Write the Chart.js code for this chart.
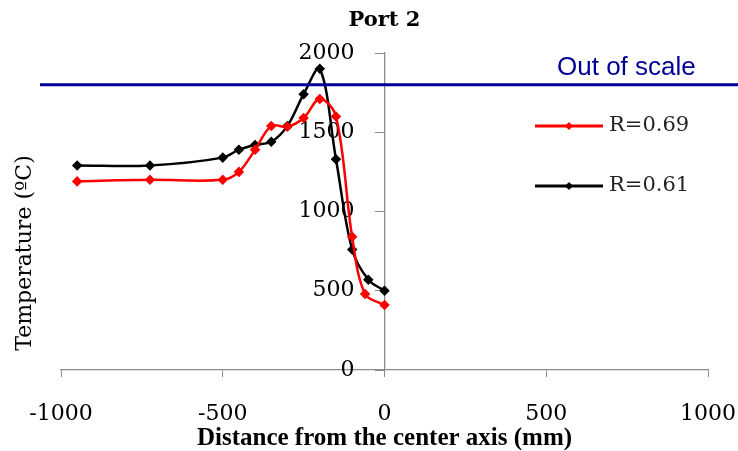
<!DOCTYPE html>
<html>
<head>
<meta charset="utf-8">
<script src="https://cdn.jsdelivr.net/npm/chart.js@4"></script>
<style>
  html, body { margin: 0; padding: 0; background: #fff; }
  #wrap { width: 738px; height: 451px; }
</style>
</head>
<body>
<div id="wrap"><canvas id="chart" width="738" height="451"></canvas></div>
<script>
// distances (mm) and temperatures (oC)
const redX = [-950, -725, -500, -450, -400, -350, -300, -250, -200, -150, -100, -60, 0];
const redY = [1190, 1200, 1200, 1250, 1390, 1540, 1535, 1590, 1710, 1600, 840, 480, 410];
const blackX = [-950, -725, -500, -450, -400, -350, -300, -250, -200, -150, -100, -50, 0];
const blackY = [1290, 1290, 1340, 1390, 1420, 1440, 1540, 1740, 1900, 1330, 760, 570, 500];
const seriesNames = ['R=0.69', 'R=0.61'];
const xTicks = [-1000, -500, 0, 500, 1000];
const yTicks = [0, 500, 1000, 1500, 2000];
const outOfScale = 1800;

const toPoints = (xs, ys) => xs.map((x, i) => ({ x: x, y: ys[i] }));

// y labels of an axis placed at x=0 sit right on the line, push them left
const shiftYLabels = {
  id: 'shiftYLabels',
  beforeDraw(chart) {
    const s = chart.scales.y;
    const items = s.getLabelItems();
    if (items._shifted) return;
    items.forEach(it => { it.options.translation[0] -= 30; });
    items._shifted = true;
  }
};

// extra drawing: blue limit line, its label, y title, legend
const extras = {
  id: 'extras',
  afterDraw(chart) {
    const ctx = chart.ctx;
    const y = chart.scales.y;
    ctx.save();

    // out of scale line
    const ly = y.getPixelForValue(outOfScale);
    ctx.strokeStyle = '#000099';
    ctx.lineWidth = 3;
    ctx.beginPath();
    ctx.moveTo(40, ly);
    ctx.lineTo(chart.width, ly);
    ctx.stroke();
    ctx.fillStyle = '#000099';
    ctx.font = '26px "Liberation Sans", Arial, sans-serif';
    ctx.textBaseline = 'middle';
    ctx.textAlign = 'left';
    ctx.fillText('Out of scale', 557, 68);

    // y axis title
    ctx.fillStyle = '#000';
    ctx.font = '22px "DejaVu Serif", serif';
    ctx.translate(25, 253);
    ctx.rotate(-Math.PI / 2);
    ctx.textAlign = 'center';
    ctx.fillText('Temperature (\u00baC)', 0, 0);
    ctx.setTransform(1, 0, 0, 1, 0, 0);

    // legend
    const rows = [126, 186];
    chart.data.datasets.forEach((ds, i) => {
      const ry = rows[i];
      ctx.strokeStyle = ds.borderColor;
      ctx.lineWidth = 3;
      ctx.beginPath();
      ctx.moveTo(535, ry);
      ctx.lineTo(603, ry);
      ctx.stroke();
      ctx.fillStyle = ds.borderColor;
      ctx.beginPath();
      ctx.moveTo(569, ry - 4);
      ctx.lineTo(573, ry);
      ctx.lineTo(569, ry + 4);
      ctx.lineTo(565, ry);
      ctx.closePath();
      ctx.fill();
      ctx.fillStyle = '#222';
      ctx.font = '21px "DejaVu Serif", serif';
      ctx.textAlign = 'left';
      ctx.textBaseline = 'middle';
      ctx.fillText(ds.label, 609, ry);
    });
    ctx.restore();
  }
};

new Chart(document.getElementById('chart'), {
  type: 'line',
  data: {
    datasets: [
      {
        label: seriesNames[0],
        data: toPoints(redX, redY),
        borderColor: '#ff0000',
        backgroundColor: '#ff0000',
        borderWidth: 2.5,
        pointStyle: 'rectRot',
        pointRadius: 3.5,
        tension: 0.35
      },
      {
        label: seriesNames[1],
        data: toPoints(blackX, blackY),
        borderColor: '#000000',
        backgroundColor: '#000000',
        borderWidth: 2.5,
        pointStyle: 'rectRot',
        pointRadius: 3.5,
        tension: 0.35
      }
    ]
  },
  options: {
    responsive: false,
    animation: false,
    layout: { padding: { left: 61, right: 30, top: 10, bottom: 0 } },
    plugins: {
      legend: { display: false },
      tooltip: { enabled: false },
      title: {
        display: true,
        text: 'Port 2',
        color: '#000',
        font: { family: '"DejaVu Serif", serif', size: 21, weight: 'bold', lineHeight: 1 },
        padding: { top: 0, bottom: 22 }
      }
    },
    scales: {
      x: {
        type: 'linear',
        min: -1000,
        max: 1000,
        afterBuildTicks: (s) => { s.ticks = xTicks.map(v => ({ value: v })); },
        grid: { drawOnChartArea: false, drawTicks: true, tickLength: 7, color: '#8c8c8c' },
        border: { color: '#8c8c8c', width: 1.3 },
        ticks: {
          color: '#000',
          padding: 0,
          maxRotation: 0,
          callback: (v) => String(v),
          // tall line box pushes the labels down without extra side padding
          font: { family: '"DejaVu Serif", serif', size: 22, lineHeight: '74px' }
        },
        title: {
          display: true,
          text: 'Distance from the center axis (mm)',
          color: '#000',
          padding: { top: -25, bottom: 0 },
          font: { family: '"Liberation Serif", serif', size: 25, weight: 'bold', lineHeight: 1 }
        }
      },
      y: {
        type: 'linear',
        position: { x: 0 },
        min: 0,
        max: 2000,
        afterBuildTicks: (s) => { s.ticks = yTicks.map(v => ({ value: v })); },
        grid: { drawOnChartArea: false, drawTicks: true, tickLength: 9, color: '#8c8c8c' },
        border: { color: '#8c8c8c', width: 1.3 },
        ticks: {
          color: '#000',
          callback: (v) => String(v),
          font: { family: '"DejaVu Serif", serif', size: 22 }
        }
      }
    }
  },
  plugins: [shiftYLabels, extras]
});
</script>
</body>
</html>
